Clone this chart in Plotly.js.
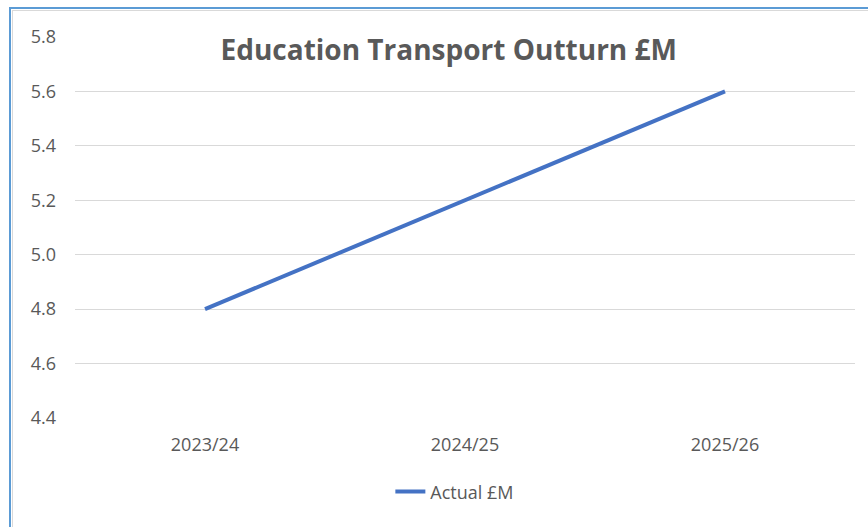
<!DOCTYPE html>
<html><head><meta charset="utf-8">
<script src="https://cdn.plot.ly/plotly-3.0.1.min.js"></script>
<style>
html,body{margin:0;padding:0;background:#fff;overflow:hidden;}
#wrap{position:relative;width:868px;height:527px;}
#chart{position:absolute;left:0;top:0;width:868px;height:527px;}
#frame{position:absolute;left:9px;top:7px;width:900px;height:600px;border-left:2px solid #5b9bd5;border-top:2px solid #5b9bd5;pointer-events:none;}
#frame2{position:absolute;left:12px;top:10px;width:900px;height:600px;border-left:1px solid #d9d9d9;border-top:1px solid #d9d9d9;pointer-events:none;}
</style></head>
<body><div id="wrap"><div id="chart"></div><div id="frame"></div><div id="frame2"></div></div>
<script>
const categories = ["2023/24", "2024/25", "2025/26"];
const actual = [4.8, 5.2, 5.6];
const seriesName = "Actual £M";
const chartTitle = "Education Transport Outturn £M";

const font = "Open Sans, Liberation Sans, sans-serif";
Plotly.newPlot("chart", [{
  x: categories, y: actual, type: "scatter", mode: "lines", name: seriesName,
  line: {color: "#4472c4", width: 4}
}], {
  width: 868, height: 527,
  margin: {l: 75, r: 13, t: 37, b: 109},
  paper_bgcolor: "#fff", plot_bgcolor: "#fff",
  title: {text: "<b>" + chartTitle + "</b>", x: 0.517, xanchor: "center", y: 0.905, yanchor: "middle",
          font: {family: font, size: 28, color: "#595959"}},
  xaxis: {type: "category", range: [-0.5, 2.5], showgrid: false, zeroline: false, showline: false,
          ticks: "", ticklabelstandoff: 14, tickfont: {family: font, size: 18, color: "#595959"}},
  yaxis: {range: [4.4, 5.8], dtick: 0.2, tickformat: ".1f", showgrid: true, gridcolor: "#d9d9d9", gridwidth: 1,
          zeroline: false, showline: false, ticks: "", ticklabelstandoff: 18,
          tickfont: {family: font, size: 18, color: "#595959"}},
  showlegend: true,
  legend: {orientation: "h", x: 0.487, xanchor: "center", y: -0.194, yanchor: "middle",
           font: {family: font, size: 18, color: "#595959"}, bgcolor: "rgba(0,0,0,0)"}
}, {displayModeBar: false, staticPlot: true});
</script></body></html>
